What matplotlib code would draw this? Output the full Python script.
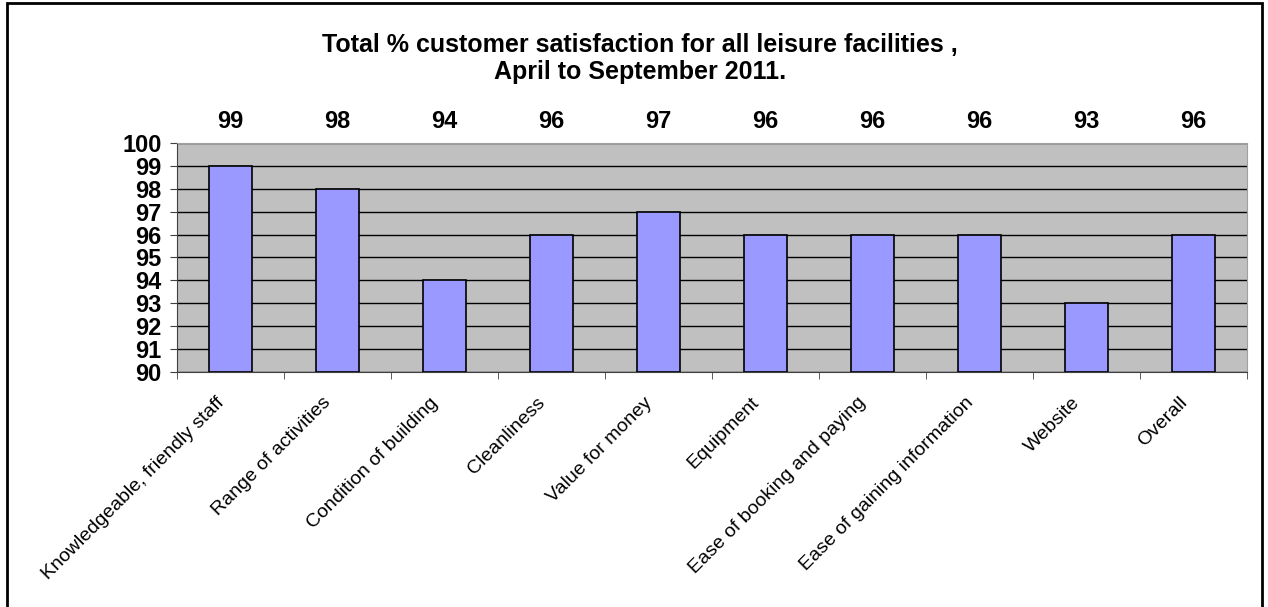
import matplotlib.pyplot as plt
from matplotlib.patches import Rectangle
from matplotlib.transforms import ScaledTranslation
import numpy as np

plt.rcParams['font.family'] = ['Liberation Sans', 'DejaVu Sans']

categories = ["Knowledgeable, friendly staff", "Range of activities",
              "Condition of building", "Cleanliness", "Value for money",
              "Equipment", "Ease of booking and paying",
              "Ease of gaining information", "Website", "Overall"]
values = [99, 98, 94, 96, 97, 96, 96, 96, 93, 96]
yticks = list(range(90, 101))

fig = plt.figure(figsize=(12.68, 6.07), dpi=100)
ax = fig.add_axes([177/1268, 1-372/607, 1070/1268, 229/607])

x = np.arange(len(categories))
ax.set_facecolor("#C0C0C0")
ax.set_axisbelow(True)
ax.yaxis.grid(True, color="black", linewidth=1)
ax.bar(x, [v - 90 for v in values], bottom=90, width=0.4,
       color="#9999FF", edgecolor="black", linewidth=1.2, zorder=3)

ax.set_xlim(-0.5, len(categories) - 0.5)
ax.set_ylim(90, 100)
ax.set_yticks(yticks)
ax.set_yticklabels([str(t) for t in yticks], fontsize=17, fontweight="bold")

ax.set_xticks(x)
ax.set_xticklabels(categories, rotation=45, ha="right", va="center",
                   rotation_mode="anchor", fontsize=14)
ax.tick_params(axis="x", length=0, pad=16)
ax.set_xticks(np.arange(-0.5, len(categories), 1), minor=True)
ax.tick_params(axis="x", which="minor", length=5, color="#404040")
ax.tick_params(axis="y", length=5, color="#404040", pad=6)
shift = ScaledTranslation(-9/100, -6/100, fig.dpi_scale_trans)
for lbl in ax.get_xticklabels():
    lbl.set_transform(lbl.get_transform() + shift)

for s in ["top", "right"]:
    ax.spines[s].set_color("#A0A0A0")
for s in ["left", "bottom"]:
    ax.spines[s].set_color("#404040")

for xi, v in zip(x, values):
    ax.text(xi, 1.095, str(v), transform=ax.get_xaxis_transform(),
            ha="center", va="center", fontsize=17, fontweight="bold")

fig.text(640/1268, 1-45/607, "Total % customer satisfaction for all leisure facilities ,",
         ha="center", va="center", fontsize=18, fontweight="bold")
fig.text(640/1268, 1-72/607, "April to September 2011.",
         ha="center", va="center", fontsize=18, fontweight="bold")

fig.patches.append(Rectangle((7/1268, -0.02), 1255/1268, 1.02 - 3/607,
                             transform=fig.transFigure, fill=False,
                             edgecolor="black", linewidth=2))

fig.savefig("out.png", dpi=100)
